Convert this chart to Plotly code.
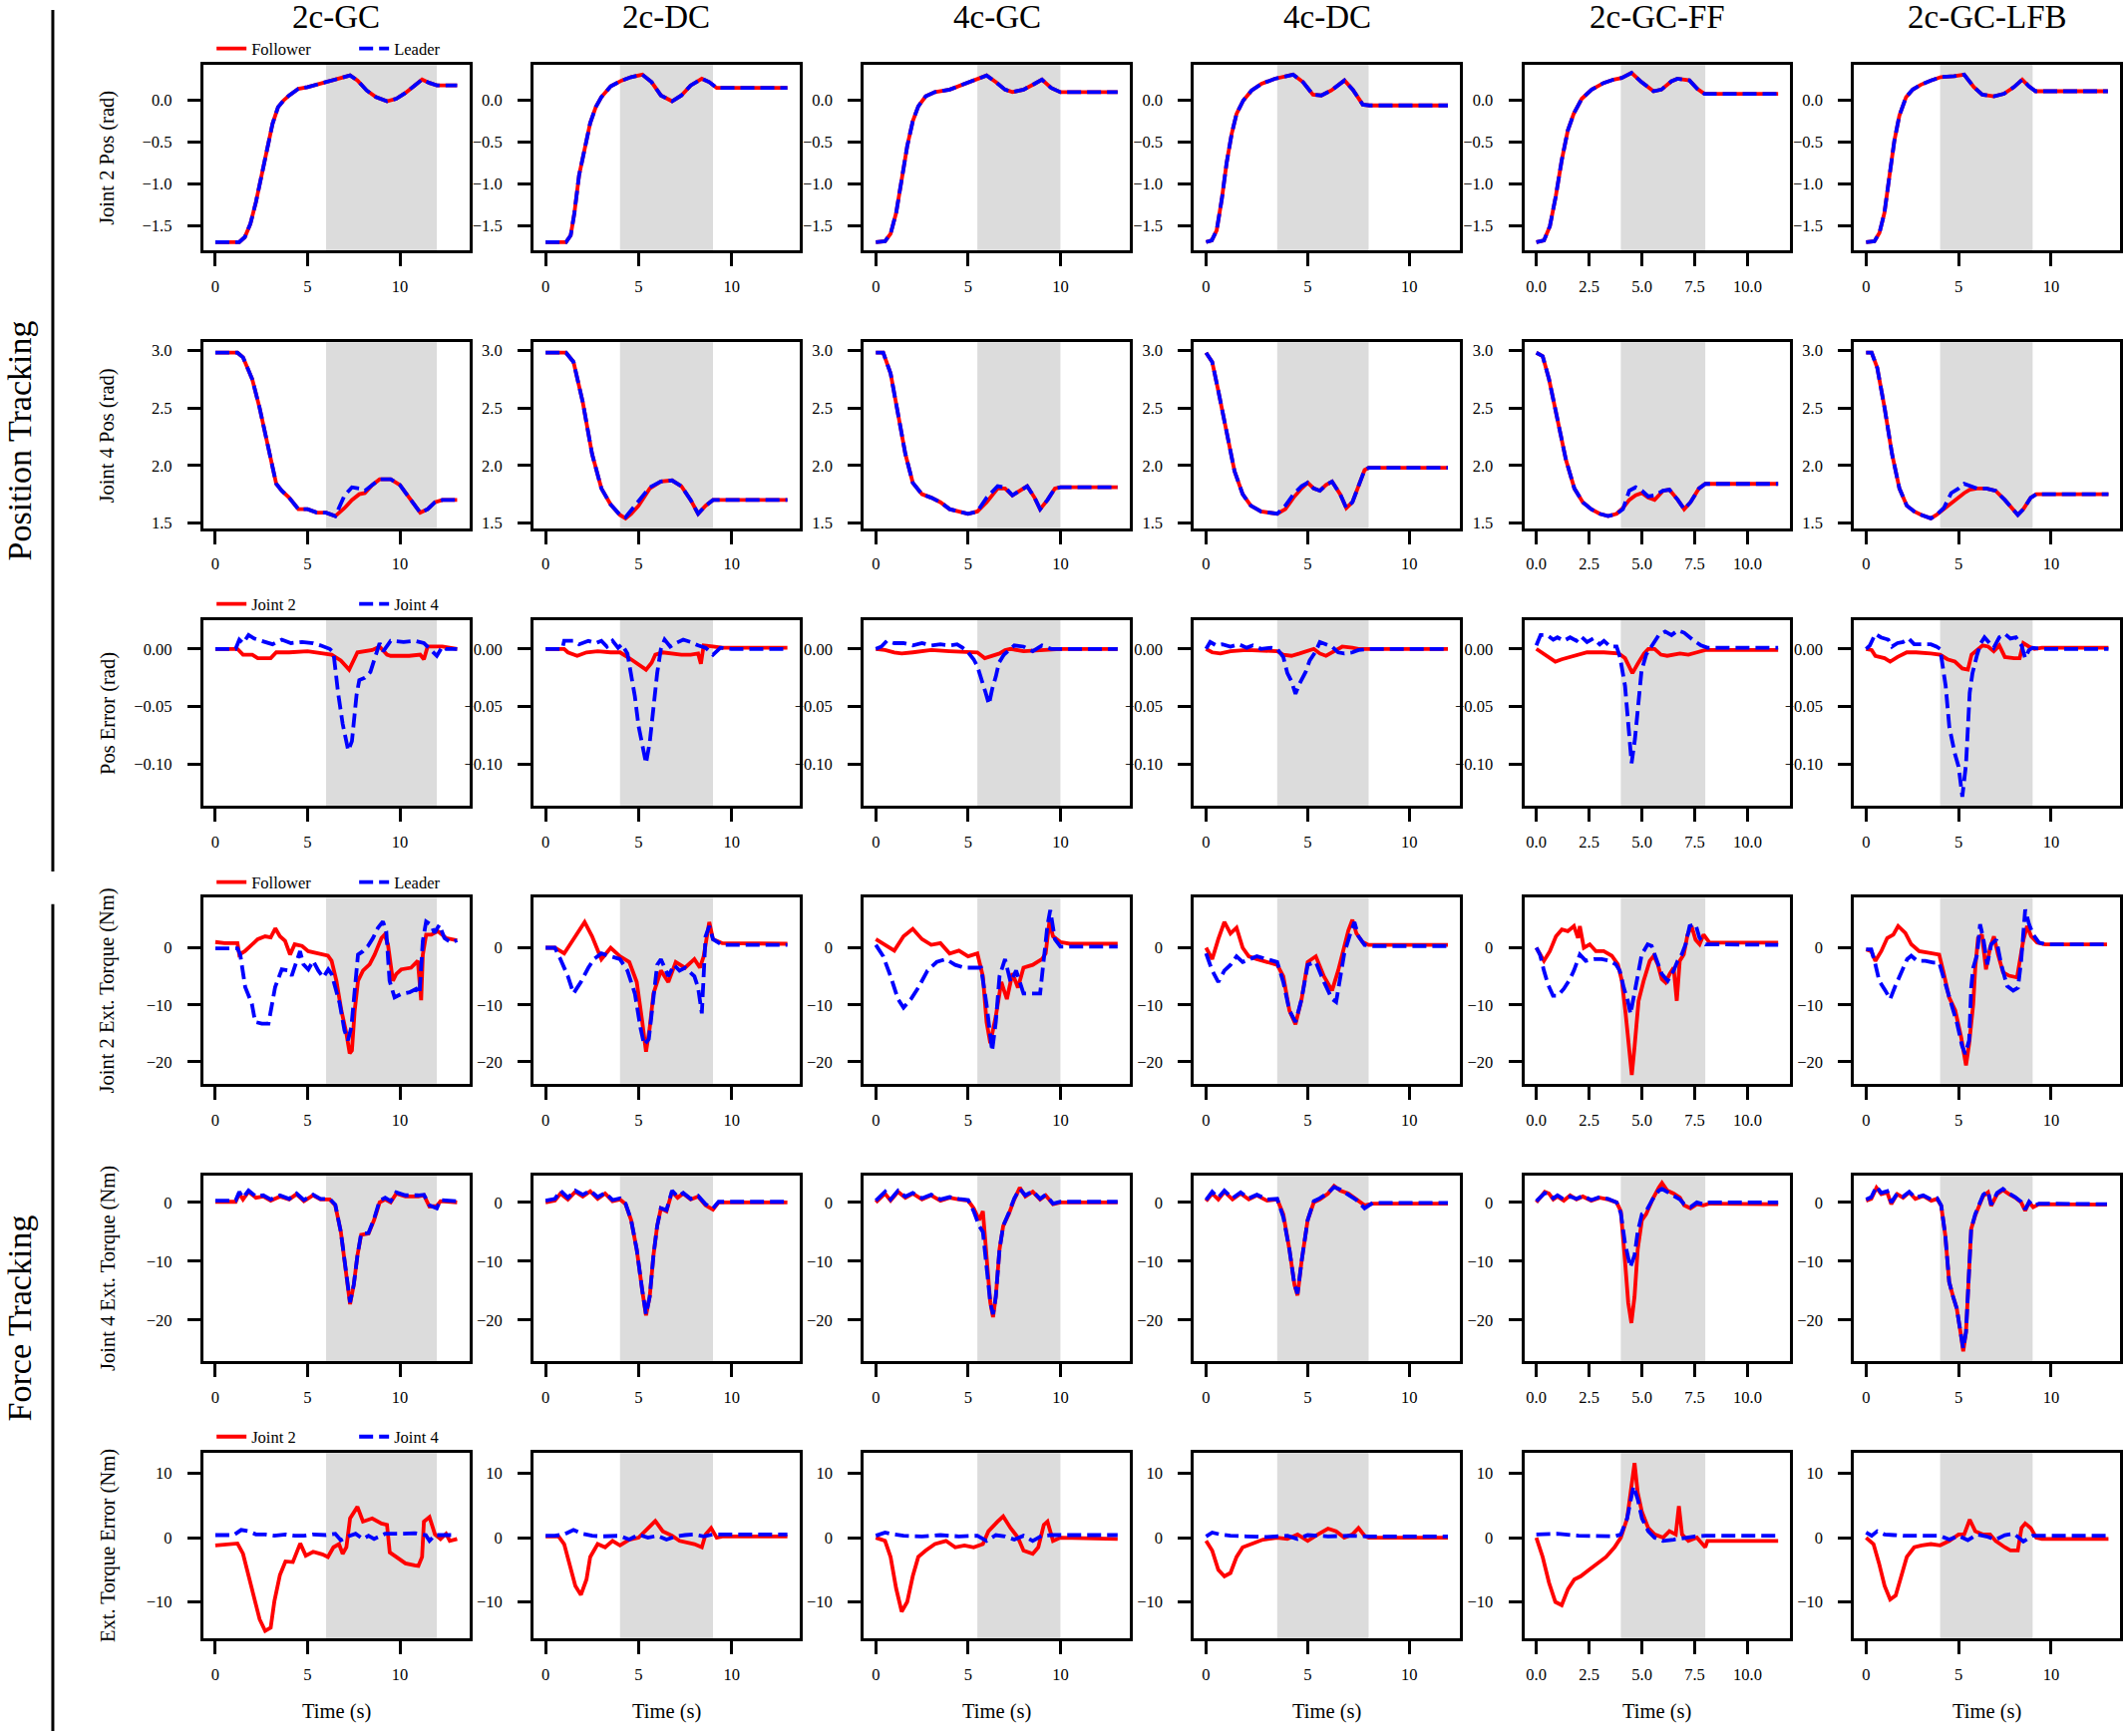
import plotly.graph_objects as go

W, H = 2129, 1741
FONT = "Liberation Serif, Times New Roman, serif"
RED = "#ff0000"
BLUE = "#0000ff"
SHADE = "#dcdcdc"

COLUMNS = ["2c-GC", "2c-DC", "4c-GC", "4c-DC", "2c-GC-FF", "2c-GC-LFB"]
ROW_LABELS = ["Joint 2 Pos (rad)", "Joint 4 Pos (rad)", "Pos Error (rad)",
              "Joint 2 Ext. Torque (Nm)", "Joint 4 Ext. Torque (Nm)", "Ext. Torque Error (Nm)"]
SHADE_START = [6.0, 4.0, 5.5, 3.5, 4.0, 4.0]
SHADE_END = [12.0, 9.0, 10.0, 8.0, 8.0, 9.0]
T_END = [13.1, 13.0, 13.1, 11.9, 11.45, 13.07]

# ---------------- Column 1 : 2c-GC ----------------
GC_J2POS_F = [(0,-1.70),(1.3,-1.70),(1.6,-1.64),(1.9,-1.48),(2.2,-1.22),(2.5,-0.92),(2.8,-0.58),(3.1,-0.28),(3.4,-0.08),(3.7,0.00),(4.0,0.06),(4.5,0.14),(5.0,0.16),(5.5,0.19),(6.0,0.23),(6.5,0.26),(7.0,0.28),(7.3,0.30),(7.7,0.24),(8.2,0.12),(8.7,0.04),(9.3,-0.01),(9.8,0.02),(10.3,0.09),(10.8,0.18),(11.2,0.25),(11.6,0.21),(12.0,0.18),(13.1,0.18)]
GC_J2POS_L = [(0,-1.70),(1.3,-1.70),(1.6,-1.64),(1.9,-1.48),(2.2,-1.22),(2.5,-0.92),(2.8,-0.58),(3.1,-0.28),(3.4,-0.08),(3.7,0.00),(4.0,0.06),(4.5,0.14),(5.0,0.16),(5.5,0.19),(6.0,0.23),(6.5,0.26),(7.0,0.28),(7.3,0.30),(7.7,0.24),(8.2,0.12),(8.7,0.04),(9.3,-0.01),(9.8,0.02),(10.3,0.09),(10.8,0.18),(11.2,0.25),(11.6,0.21),(12.0,0.18),(13.1,0.18)]
GC_J4POS_F = [(0,2.98),(1.2,2.98),(1.5,2.94),(2.0,2.75),(2.4,2.50),(2.7,2.27),(3.0,2.05),(3.3,1.84),(3.6,1.78),(4.0,1.72),(4.5,1.62),(5.0,1.62),(5.5,1.59),(6.0,1.59),(6.5,1.56),(7.0,1.63),(7.4,1.70),(7.8,1.75),(8.1,1.76),(8.5,1.83),(8.9,1.88),(9.5,1.88),(10.0,1.83),(10.5,1.72),(11.1,1.59),(11.5,1.62),(11.9,1.68),(12.3,1.70),(13.1,1.70)]
GC_J4POS_L = [(0,2.98),(1.2,2.98),(1.5,2.94),(2.0,2.75),(2.4,2.50),(2.7,2.27),(3.0,2.05),(3.3,1.84),(3.6,1.78),(4.0,1.72),(4.5,1.62),(5.0,1.62),(5.5,1.59),(6.0,1.59),(6.5,1.56),(7.0,1.74),(7.4,1.81),(7.8,1.80),(8.1,1.78),(8.5,1.83),(8.9,1.88),(9.5,1.88),(10.0,1.83),(10.5,1.72),(11.1,1.59),(11.5,1.62),(11.9,1.68),(12.3,1.70),(13.1,1.70)]
GC_POSERR_J2 = [(0,0),(1.2,0),(1.5,-0.005),(2.0,-0.005),(2.3,-0.008),(3.0,-0.008),(3.3,-0.003),(4.0,-0.003),(5.0,-0.002),(5.5,-0.003),(6.3,-0.005),(6.8,-0.010),(7.25,-0.018),(7.7,-0.003),(8.5,-0.001),(8.9,0.002),(9.3,-0.005),(9.5,-0.006),(10.5,-0.006),(11.1,-0.005),(11.3,-0.009),(11.5,0.002),(12.3,0.002),(13.1,0.0)]
GC_POSERR_J4 = [(0,0),(1.1,0),(1.3,0.008),(1.5,0.005),(1.8,0.012),(2.1,0.009),(2.3,0.008),(2.8,0.006),(3.1,0.004),(3.6,0.008),(4.1,0.005),(4.7,0.006),(5.3,0.005),(5.7,0.003),(6.2,0.0),(6.4,-0.003),(6.65,-0.038),(6.9,-0.065),(7.2,-0.088),(7.4,-0.080),(7.65,-0.040),(7.8,-0.027),(8.1,-0.025),(8.4,-0.020),(8.6,-0.010),(8.9,0.005),(9.1,-0.002),(9.5,0.007),(10.2,0.006),(10.8,0.007),(11.3,0.005),(11.8,-0.003),(12.0,-0.006),(12.3,0.002),(12.5,0.0),(13.1,0.0)]
GC_J2TQ_F = [(0,1.0),(0.5,0.8),(1.2,0.8),(1.3,-1.2),(1.6,-0.6),(2.0,0.6),(2.3,1.5),(2.7,2.0),(3.0,1.8),(3.25,3.4),(3.5,2.0),(3.78,1.2),(4.05,-1.2),(4.3,0.6),(4.7,0.3),(5.03,-0.6),(5.4,-0.9),(5.75,-1.2),(6.1,-1.4),(6.3,-2.3),(6.56,-5.8),(6.83,-11.0),(7.1,-15.0),(7.28,-18.5),(7.4,-18.0),(7.55,-11.0),(7.73,-5.8),(8.0,-4.0),(8.36,-2.9),(8.63,-1.2),(9.0,1.7),(9.17,2.3),(9.35,0.6),(9.62,-5.8),(9.8,-4.6),(10.07,-3.8),(10.6,-3.5),(10.97,-2.3),(11.15,-9.2),(11.24,-1.2),(11.42,2.3),(11.7,2.3),(12.05,2.9),(12.5,1.7),(13.1,1.3)]
GC_J2TQ_L = [(0,-0.1),(1.2,-0.1),(1.35,-1.2),(1.62,-6.9),(1.98,-9.8),(2.16,-13.0),(2.52,-13.3),(2.88,-13.3),(3.06,-10.1),(3.24,-6.9),(3.6,-3.8),(3.96,-4.0),(4.14,-4.9),(4.32,-3.2),(4.59,-0.6),(4.77,-2.9),(5.04,-3.8),(5.3,-2.3),(5.58,-4.0),(5.85,-5.2),(6.12,-3.8),(6.3,-4.6),(6.47,-6.4),(6.74,-9.8),(7.0,-14.5),(7.19,-16.2),(7.37,-13.9),(7.55,-6.9),(7.73,-1.2),(8.0,-0.6),(8.27,0.3),(8.54,1.7),(8.81,3.5),(9.08,4.6),(9.26,2.9),(9.44,-5.8),(9.71,-8.7),(10.07,-8.1),(10.52,-7.8),(10.88,-7.2),(11.06,-8.1),(11.24,1.2),(11.42,4.6),(11.69,4.0),(11.87,2.6),(12.14,4.0),(12.41,1.7),(12.77,0.9),(13.1,1.3)]
GC_J4TQ_F = [(0,0.1),(1.1,0.1),(1.3,1.5),(1.5,0.5),(1.8,1.8),(2.2,0.8),(2.6,1.0),(3.0,0.3),(3.5,1.0),(4.0,0.5),(4.4,1.4),(4.8,0.2),(5.3,1.2),(5.7,0.5),(6.2,0.5),(6.5,-0.5),(6.8,-5.0),(7.0,-10.0),(7.3,-17.3),(7.5,-14.0),(7.7,-9.0),(7.9,-5.5),(8.3,-5.3),(8.6,-3.0),(8.9,0.0),(9.2,0.5),(9.5,0.0),(9.8,1.5),(10.3,1.0),(11.0,1.0),(11.3,1.2),(11.6,-0.7),(12.0,-0.6),(12.2,0.2),(13.1,0.0)]
GC_J4TQ_L = [(0,0.3),(1.1,0.3),(1.3,1.8),(1.5,0.8),(1.8,2.0),(2.2,1.0),(2.6,1.2),(3.0,0.5),(3.5,1.2),(4.0,0.6),(4.4,1.5),(4.8,0.4),(5.3,1.3),(5.7,0.6),(6.2,0.6),(6.5,-0.4),(6.8,-5.0),(7.0,-10.0),(7.3,-17.0),(7.5,-14.0),(7.7,-9.0),(7.9,-5.3),(8.3,-5.2),(8.6,-2.8),(8.9,0.3),(9.2,0.8),(9.5,0.2),(9.8,1.7),(10.3,1.2),(11.0,1.2),(11.3,1.3),(11.6,-0.5),(12.0,-1.0),(12.2,0.4),(13.1,0.2)]
GC_TQERR_J2 = [(0,-1.2),(1.2,-0.9),(1.5,-2.5),(2.0,-8.0),(2.4,-12.7),(2.7,-14.5),(3.0,-14.0),(3.2,-9.9),(3.5,-5.8),(3.8,-3.7),(4.2,-3.8),(4.6,-0.9),(4.9,-2.8),(5.3,-2.2),(5.8,-2.6),(6.1,-3.0),(6.4,-1.5),(6.7,-1.0),(6.9,-2.5),(7.1,-1.5),(7.3,3.0),(7.7,4.8),(8.0,2.5),(8.5,3.0),(9.0,2.2),(9.3,2.0),(9.45,-2.3),(9.8,-3.0),(10.3,-4.0),(10.8,-4.3),(11.0,-4.4),(11.2,-3.0),(11.3,2.5),(11.6,3.2),(11.9,0.5),(12.2,-0.2),(12.5,0.6),(12.7,-0.5),(13.1,-0.2)]
GC_TQERR_J4 = [(0,0.4),(1.0,0.4),(1.4,1.2),(1.8,1.0),(2.2,0.5),(2.7,0.5),(3.2,0.3),(3.8,0.5),(4.3,0.3),(4.8,0.3),(5.3,0.5),(6.0,0.4),(6.5,0.6),(6.8,-0.4),(7.2,0.2),(7.6,0.6),(8.0,-0.2),(8.3,0.3),(8.6,-0.2),(9.2,0.6),(10.0,0.6),(10.8,0.7),(11.4,0.4),(11.6,-0.5),(11.9,0.4),(12.5,0.4),(13.1,0.4)]

# ---------------- Column 2 : 2c-DC ----------------
DC_J2POS_F = [(0,-1.70),(1.1,-1.70),(1.35,-1.62),(1.55,-1.35),(1.8,-0.90),(2.1,-0.56),(2.4,-0.27),(2.7,-0.08),(3.0,0.04),(3.5,0.17),(4.1,0.24),(4.6,0.28),(5.2,0.31),(5.7,0.22),(6.2,0.06),(6.8,-0.01),(7.3,0.06),(7.8,0.18),(8.4,0.26),(8.8,0.22),(9.2,0.15),(13.0,0.15)]
DC_J2POS_L = [(0,-1.70),(1.1,-1.70),(1.35,-1.62),(1.55,-1.35),(1.8,-0.90),(2.1,-0.56),(2.4,-0.27),(2.7,-0.08),(3.0,0.04),(3.5,0.17),(4.1,0.24),(4.6,0.28),(5.2,0.31),(5.7,0.22),(6.2,0.06),(6.8,-0.01),(7.3,0.06),(7.8,0.18),(8.4,0.26),(8.8,0.22),(9.2,0.15),(13.0,0.15)]
DC_J4POS_F = [(0,2.98),(1.1,2.98),(1.5,2.90),(2.0,2.55),(2.5,2.10),(3.0,1.80),(3.5,1.66),(4.0,1.57),(4.3,1.54),(4.6,1.58),(5.0,1.65),(5.6,1.80),(6.2,1.86),(6.8,1.87),(7.3,1.82),(7.8,1.70),(8.2,1.58),(8.6,1.65),(9.0,1.70),(13.0,1.70)]
DC_J4POS_L = [(0,2.98),(1.1,2.98),(1.5,2.90),(2.0,2.55),(2.5,2.10),(3.0,1.80),(3.5,1.66),(4.0,1.57),(4.3,1.55),(4.6,1.61),(5.0,1.69),(5.6,1.81),(6.2,1.86),(6.8,1.87),(7.3,1.82),(7.8,1.70),(8.2,1.58),(8.6,1.65),(9.0,1.70),(13.0,1.70)]
DC_POSERR_J2 = [(0,0),(1.0,0),(1.2,-0.003),(1.7,-0.006),(2.2,-0.003),(2.8,-0.002),(3.5,-0.003),(4.0,-0.003),(4.5,-0.008),(5.0,-0.014),(5.4,-0.018),(5.7,-0.012),(5.9,-0.005),(6.3,-0.003),(6.8,-0.004),(7.3,-0.005),(7.8,-0.005),(8.2,-0.004),(8.35,-0.013),(8.5,0.003),(9.0,0.002),(9.5,0.001),(13.0,0.001)]
DC_POSERR_J4 = [(0,0),(0.9,0),(1.0,0.007),(1.5,0.007),(1.8,0.004),(2.3,0.007),(2.7,0.005),(3.0,0.007),(3.3,0.002),(3.6,0.007),(3.9,0.001),(4.1,0.004),(4.4,-0.004),(4.6,-0.024),(4.8,-0.041),(5.0,-0.067),(5.3,-0.089),(5.4,-0.099),(5.6,-0.081),(5.8,-0.049),(6.0,-0.021),(6.2,0.0),(6.4,0.008),(6.7,0.002),(7.0,0.005),(7.4,0.008),(7.8,0.006),(8.2,0.003),(8.6,0.001),(9.0,-0.005),(9.4,0.001),(10.0,0.0),(13.0,0.0)]
DC_J2TQ_F = [(0,0),(0.5,0),(1.0,-1.0),(1.5,1.5),(2.1,4.5),(2.5,2.0),(3.0,-2.0),(3.5,0),(4.0,-1.5),(4.5,-2.5),(4.9,-6),(5.2,-13),(5.4,-18.2),(5.6,-14),(5.8,-8),(6.2,-4),(6.6,-6),(7.0,-2.5),(7.5,-3.5),(8.0,-2),(8.3,-3.5),(8.5,-1.5),(8.8,4.5),(9.0,1.5),(9.5,0.8),(13.0,0.7)]
DC_J2TQ_L = [(0,0),(0.5,0),(0.8,-2),(1.2,-5),(1.5,-8),(1.9,-6),(2.3,-3.5),(2.6,-2),(3.0,-1.0),(3.5,-1.5),(4.0,-2),(4.4,-4),(4.8,-8),(5.1,-14),(5.3,-17),(5.55,-16),(5.8,-8),(6.0,-3),(6.2,-2),(6.6,-5),(6.9,-3),(7.2,-4),(7.5,-3.5),(8.0,-5),(8.2,-7),(8.4,-11.5),(8.6,2),(8.8,3.8),(9.0,1.5),(9.5,0.5),(13.0,0.5)]
DC_J4TQ_F = [(0,0),(0.5,0.3),(0.8,1.5),(1.2,0.5),(1.6,1.8),(2.0,1.0),(2.4,1.9),(2.8,0.6),(3.2,1.5),(3.6,0.2),(4.0,0.5),(4.3,-0.3),(4.6,-3),(4.9,-8),(5.2,-15),(5.4,-19.2),(5.6,-16),(5.8,-9),(6.0,-4),(6.2,-1),(6.5,-1.5),(6.8,1.8),(7.1,0.8),(7.4,1.5),(7.8,0.5),(8.2,1.0),(8.6,-0.5),(9.0,-1.2),(9.3,0),(13.0,0)]
DC_J4TQ_L = [(0,0.3),(0.5,0.6),(0.8,2.0),(1.2,0.8),(1.6,2.0),(2.0,1.3),(2.4,2.0),(2.8,0.9),(3.2,1.6),(3.6,0.4),(4.0,0.7),(4.3,-0.2),(4.6,-3),(4.9,-8),(5.2,-15),(5.4,-19.0),(5.6,-16),(5.8,-9),(6.0,-4),(6.2,-1),(6.5,-1.3),(6.8,2.0),(7.1,1.0),(7.4,1.6),(7.8,0.6),(8.2,1.1),(8.6,-0.3),(9.0,-1.0),(9.3,0.1),(13.0,0.1)]
DC_TQERR_J2 = [(0,0.2),(0.7,0.2),(1.0,-1),(1.3,-4),(1.6,-7.5),(1.9,-8.9),(2.2,-6.5),(2.4,-3),(2.8,-1.0),(3.2,-1.5),(3.6,-0.5),(4.0,-1.2),(4.5,-0.3),(5.0,0),(5.5,1.5),(5.9,2.6),(6.3,1.0),(6.8,0.3),(7.2,-0.5),(7.6,-0.8),(8.0,-1.0),(8.4,-1.5),(8.6,0.5),(8.9,1.5),(9.2,0),(9.5,0.2),(13.0,0.2)]
DC_TQERR_J4 = [(0,0.3),(0.5,0.3),(1.0,0.5),(1.5,1.2),(2.0,0.6),(2.5,0.3),(3.0,0.2),(4.0,0.3),(4.5,-0.3),(5.0,0.5),(5.5,0.0),(6.0,0.3),(6.5,-0.3),(7.0,0.2),(7.5,0.4),(8.0,0.5),(8.5,0.2),(9.0,0.5),(13.0,0.5)]

# ---------------- Column 3 : 4c-GC ----------------
GC4_J2POS_F = [(0,-1.70),(0.5,-1.69),(0.8,-1.60),(1.1,-1.35),(1.4,-0.95),(1.7,-0.55),(2.0,-0.25),(2.3,-0.07),(2.7,0.05),(3.2,0.10),(4.0,0.13),(4.8,0.20),(5.5,0.25),(6.0,0.30),(6.5,0.22),(7.0,0.13),(7.4,0.10),(8.0,0.13),(8.6,0.20),(9.0,0.25),(9.5,0.15),(10.0,0.10),(13.1,0.10)]
GC4_J2POS_L = [(0,-1.70),(0.5,-1.69),(0.8,-1.60),(1.1,-1.35),(1.4,-0.95),(1.7,-0.55),(2.0,-0.25),(2.3,-0.07),(2.7,0.05),(3.2,0.10),(4.0,0.13),(4.8,0.20),(5.5,0.25),(6.0,0.30),(6.5,0.22),(7.0,0.13),(7.4,0.10),(8.0,0.13),(8.6,0.20),(9.0,0.25),(9.5,0.15),(10.0,0.10),(13.1,0.10)]
GC4_J4POS_F = [(0,2.98),(0.4,2.98),(0.8,2.80),(1.2,2.45),(1.6,2.10),(2.0,1.85),(2.5,1.75),(3.0,1.72),(3.5,1.68),(4.0,1.62),(4.5,1.60),(5.0,1.58),(5.5,1.60),(6.0,1.68),(6.6,1.80),(7.0,1.80),(7.4,1.74),(7.8,1.78),(8.2,1.82),(8.6,1.72),(8.9,1.62),(9.3,1.70),(9.7,1.80),(10.0,1.81),(13.1,1.81)]
GC4_J4POS_L = [(0,2.98),(0.4,2.98),(0.8,2.80),(1.2,2.45),(1.6,2.10),(2.0,1.85),(2.5,1.75),(3.0,1.72),(3.5,1.68),(4.0,1.62),(4.5,1.60),(5.0,1.58),(5.5,1.60),(6.0,1.72),(6.6,1.82),(7.0,1.81),(7.4,1.74),(7.8,1.78),(8.2,1.82),(8.6,1.72),(8.9,1.62),(9.3,1.70),(9.7,1.80),(10.0,1.81),(13.1,1.81)]
GC4_POSERR_J2 = [(0,0),(0.5,-0.001),(1.0,-0.003),(1.4,-0.004),(2.0,-0.003),(3.0,-0.001),(4.0,-0.002),(5.0,-0.003),(5.5,-0.003),(5.9,-0.008),(6.3,-0.006),(6.7,-0.004),(7.0,-0.001),(7.3,0.0),(8.0,-0.002),(9.0,-0.001),(10.0,0.0),(13.1,0.0)]
GC4_POSERR_J4 = [(0,0),(0.3,0.002),(0.6,0.007),(1.0,0.005),(1.5,0.005),(2.0,0.003),(2.5,0.005),(3.0,0.003),(3.5,0.004),(4.0,0.003),(4.4,0.004),(4.7,0.001),(5.0,-0.003),(5.3,-0.009),(5.5,-0.015),(5.77,-0.028),(5.95,-0.038),(6.13,-0.048),(6.3,-0.035),(6.5,-0.024),(6.67,-0.012),(6.94,-0.005),(7.2,-0.001),(7.5,0.003),(8.0,0.002),(8.5,-0.002),(9.0,0.003),(9.5,0.0),(10.0,0.0),(13.1,0.0)]
GC4_J2TQ_F = [(0,1.5),(0.5,0.5),(1.0,-0.5),(1.5,2.0),(2.0,3.3),(2.5,1.5),(3.0,0.5),(3.5,0.8),(4.0,-1.0),(4.5,-0.5),(5.0,-1.5),(5.5,-1.0),(5.8,-5),(6.0,-13),(6.2,-16.7),(6.5,-12),(6.8,-6),(7.1,-9),(7.4,-4.5),(7.7,-7),(8.0,-3.5),(8.5,-3),(9.0,-2),(9.2,-1),(9.4,4.5),(9.6,2),(10.0,1.0),(10.5,0.7),(13.1,0.7)]
GC4_J2TQ_L = [(0,0.5),(0.4,-1.5),(0.8,-5),(1.2,-9),(1.5,-10.5),(1.9,-9),(2.3,-7),(2.8,-4),(3.3,-2.5),(3.8,-2),(4.3,-3),(4.8,-3.5),(5.3,-3.5),(5.7,-3.5),(6.0,-10),(6.3,-18.1),(6.5,-13),(6.7,-5),(7.0,-2),(7.3,-6),(7.6,-4),(8.0,-8),(8.5,-8),(8.9,-8),(9.1,-2),(9.3,4),(9.45,6.6),(9.7,1.5),(10.0,0.2),(13.1,0.2)]
GC4_J4TQ_F = [(0,0),(0.5,1.5),(0.8,0.3),(1.2,1.8),(1.6,0.8),(2.0,1.5),(2.5,0.5),(3.0,1.2),(3.5,0.3),(4.0,0.8),(4.5,0.5),(5.0,0.3),(5.3,-1),(5.6,-3),(5.8,-1.5),(6.0,-10),(6.2,-17),(6.35,-19.5),(6.5,-16),(6.7,-8),(6.9,-4),(7.2,-2),(7.5,0.5),(7.8,2.5),(8.1,1.0),(8.5,1.8),(8.9,0.5),(9.2,1.2),(9.6,-0.3),(10.0,0),(13.1,0)]
GC4_J4TQ_L = [(0,0.3),(0.5,1.8),(0.8,0.5),(1.2,2.0),(1.6,1.0),(2.0,1.6),(2.5,0.7),(3.0,1.3),(3.5,0.5),(4.0,0.9),(4.5,0.6),(5.0,0.4),(5.3,-1.5),(5.6,-4),(5.8,-5),(6.0,-11),(6.2,-17),(6.35,-19.0),(6.5,-16),(6.7,-8),(6.9,-4),(7.2,-1.8),(7.5,0.7),(7.8,2.3),(8.1,1.2),(8.5,1.9),(8.9,0.6),(9.2,1.3),(9.6,-0.2),(10.0,0.1),(13.1,0.1)]
GC4_TQERR_J2 = [(0,0),(0.5,-0.5),(0.8,-3),(1.1,-7.9),(1.4,-11.5),(1.7,-10),(2.0,-6),(2.3,-3),(2.7,-2),(3.2,-1.0),(3.8,-0.5),(4.3,-1.5),(4.8,-1.2),(5.3,-1.5),(5.8,-1),(6.1,1.0),(6.6,2.5),(6.9,3.3),(7.3,1.5),(7.7,0),(8.0,-2),(8.5,-2.5),(8.8,-1.5),(9.1,2.0),(9.3,2.5),(9.6,-0.5),(10.0,0),(13.1,-0.2)]
GC4_TQERR_J4 = [(0,0.3),(0.5,0.8),(1.0,0.5),(1.5,0.3),(2.5,0.2),(3.5,0.4),(4.5,0.2),(5.5,0.3),(6.0,-0.5),(6.5,0.4),(7.0,0.2),(7.5,-0.3),(8.0,0.3),(8.5,-0.5),(9.0,0.3),(9.5,0.4),(13.1,0.4)]

# ---------------- Column 4 : 4c-DC ----------------
DC4_J2POS_F = [(0,-1.70),(0.28,-1.68),(0.52,-1.56),(0.77,-1.19),(1.01,-0.75),(1.26,-0.40),(1.5,-0.16),(1.83,0.0),(2.24,0.12),(2.73,0.20),(3.38,0.26),(4.28,0.31),(4.77,0.22),(5.26,0.07),(5.67,0.06),(6.16,0.12),(6.81,0.24),(7.22,0.13),(7.71,-0.05),(8.04,-0.06),(11.9,-0.06)]
DC4_J2POS_L = [(0,-1.70),(0.28,-1.68),(0.52,-1.56),(0.77,-1.19),(1.01,-0.75),(1.26,-0.40),(1.5,-0.16),(1.83,0.0),(2.24,0.12),(2.73,0.20),(3.38,0.26),(4.28,0.31),(4.77,0.22),(5.26,0.07),(5.67,0.06),(6.16,0.12),(6.81,0.24),(7.22,0.13),(7.71,-0.05),(8.04,-0.06),(11.9,-0.06)]
DC4_J4POS_F = [(0,2.98),(0.3,2.90),(0.6,2.65),(1.0,2.30),(1.4,1.95),(1.8,1.75),(2.2,1.65),(2.7,1.60),(3.2,1.59),(3.5,1.58),(3.9,1.62),(4.3,1.72),(4.7,1.80),(5.0,1.85),(5.3,1.80),(5.6,1.78),(5.9,1.83),(6.2,1.86),(6.6,1.75),(6.9,1.63),(7.2,1.68),(7.5,1.82),(7.8,1.96),(8.0,1.98),(11.9,1.98)]
DC4_J4POS_L = [(0,2.98),(0.3,2.90),(0.6,2.65),(1.0,2.30),(1.4,1.95),(1.8,1.75),(2.2,1.65),(2.7,1.60),(3.2,1.59),(3.5,1.58),(3.9,1.65),(4.3,1.75),(4.7,1.82),(5.0,1.85),(5.3,1.80),(5.6,1.78),(5.9,1.83),(6.2,1.86),(6.6,1.75),(6.9,1.63),(7.2,1.68),(7.5,1.82),(7.8,1.96),(8.0,1.98),(11.9,1.98)]
DC4_POSERR_J2 = [(0,0),(0.3,-0.003),(0.7,-0.004),(1.2,-0.002),(2.0,-0.001),(3.0,-0.002),(3.5,-0.002),(3.8,-0.005),(4.2,-0.006),(4.6,-0.004),(5.0,-0.002),(5.3,0.0),(5.6,-0.004),(5.9,-0.006),(6.3,-0.002),(6.7,0.002),(7.2,0.001),(7.5,0.0),(11.9,0.0)]
DC4_POSERR_J4 = [(0,0),(0.2,0.006),(0.5,0.003),(0.8,0.004),(1.2,0.002),(1.6,0.004),(2.0,0.001),(2.3,0.003),(2.7,0.0),(3.2,0.001),(3.5,0.0),(3.8,-0.007),(4.0,-0.021),(4.2,-0.028),(4.4,-0.039),(4.6,-0.030),(4.9,-0.020),(5.1,-0.010),(5.4,-0.002),(5.6,0.006),(5.9,0.004),(6.2,0.002),(6.5,-0.003),(6.8,-0.004),(7.2,-0.003),(7.5,-0.001),(8.0,0.0),(11.9,0.0)]
DC4_J2TQ_F = [(0,0),(0.3,-2),(0.6,1.5),(0.9,4.5),(1.2,2.5),(1.5,3.5),(1.8,0),(2.1,-1.5),(2.5,-2),(3.0,-2.5),(3.5,-3),(3.8,-5),(4.1,-11),(4.4,-13.4),(4.7,-9),(5.0,-2.5),(5.4,-1.5),(5.8,-5),(6.2,-7.5),(6.5,-4),(6.8,0),(7.0,3.0),(7.2,4.9),(7.4,2.5),(7.7,1.0),(8.0,0.5),(11.9,0.5)]
DC4_J2TQ_L = [(0,-1),(0.3,-4),(0.6,-6),(0.9,-4),(1.2,-3),(1.5,-1.5),(1.8,-2.5),(2.1,-2),(2.5,-1.5),(3.0,-2),(3.5,-2.5),(3.8,-6),(4.1,-11),(4.4,-13),(4.7,-9),(5.0,-3),(5.4,-2.5),(5.8,-6),(6.2,-9),(6.4,-9.5),(6.6,-5),(6.8,-1),(7.1,2.5),(7.3,4.5),(7.5,2),(7.8,0.5),(8.2,0.3),(11.9,0.3)]
DC4_J4TQ_F = [(0,0.2),(0.3,1.5),(0.6,0.5),(0.9,1.8),(1.3,0.5),(1.7,1.5),(2.1,0.5),(2.5,1.2),(3.0,0.3),(3.5,0.5),(3.8,-2),(4.1,-8),(4.35,-14),(4.5,-15.8),(4.7,-10),(5.0,-3),(5.3,0),(5.6,0.5),(6.0,1.5),(6.3,2.8),(6.6,2.0),(7.0,1.5),(7.4,0.5),(7.8,-0.5),(8.2,-0.2),(11.9,-0.2)]
DC4_J4TQ_L = [(0,0.4),(0.3,1.8),(0.6,0.8),(0.9,2.0),(1.3,0.7),(1.7,1.7),(2.1,0.7),(2.5,1.3),(3.0,0.5),(3.5,0.6),(3.8,-2.5),(4.1,-8),(4.35,-14),(4.5,-15.5),(4.7,-10),(5.0,-3),(5.3,0.2),(5.6,0.7),(6.0,1.6),(6.3,2.6),(6.6,2.2),(7.0,1.3),(7.4,0.4),(7.8,-1.0),(8.2,-0.1),(11.9,-0.1)]
DC4_TQERR_J2 = [(0,-0.5),(0.3,-2),(0.6,-5),(0.9,-6),(1.2,-5.5),(1.5,-3),(1.8,-1.5),(2.2,-1.0),(2.8,-0.3),(3.5,0),(4.0,-0.2),(4.5,0.5),(5.0,-0.5),(5.5,0.5),(6.0,1.4),(6.4,1.0),(6.8,0),(7.2,0.5),(7.5,1.5),(7.8,0.3),(8.0,0),(11.9,0)]
DC4_TQERR_J4 = [(0,0.2),(0.3,0.8),(0.7,0.5),(1.2,0.3),(2.0,0.2),(3.0,0.1),(4.0,0.3),(4.5,-0.2),(5.0,0.4),(6.0,0.2),(7.0,0.3),(8.0,0.2),(11.9,0.2)]

# ---------------- Column 5 : 2c-GC-FF ----------------
FF_J2POS_F = [(0,-1.70),(0.36,-1.68),(0.64,-1.51),(0.92,-1.15),(1.2,-0.72),(1.49,-0.36),(1.77,-0.16),(2.15,0.02),(2.62,0.13),(3.19,0.21),(3.66,0.25),(4.04,0.27),(4.51,0.33),(4.98,0.22),(5.55,0.11),(5.92,0.13),(6.4,0.23),(6.68,0.26),(7.25,0.24),(7.62,0.14),(7.96,0.08),(11.45,0.08)]
FF_J2POS_L = [(0,-1.70),(0.36,-1.68),(0.64,-1.51),(0.92,-1.15),(1.2,-0.72),(1.49,-0.36),(1.77,-0.16),(2.15,0.02),(2.62,0.13),(3.19,0.21),(3.66,0.25),(4.04,0.27),(4.51,0.33),(4.98,0.22),(5.55,0.11),(5.92,0.13),(6.4,0.23),(6.68,0.26),(7.25,0.24),(7.62,0.14),(7.96,0.08),(11.45,0.08)]
FF_J4POS_F = [(0,2.98),(0.3,2.95),(0.6,2.75),(1.0,2.40),(1.4,2.05),(1.8,1.80),(2.2,1.68),(2.6,1.62),(3.0,1.58),(3.4,1.56),(3.8,1.58),(4.1,1.63),(4.4,1.70),(4.7,1.74),(5.0,1.76),(5.3,1.72),(5.6,1.70),(6.0,1.78),(6.3,1.79),(6.7,1.70),(7.0,1.62),(7.3,1.68),(7.7,1.80),(8.0,1.84),(11.45,1.84)]
FF_J4POS_L = [(0,2.98),(0.3,2.95),(0.6,2.75),(1.0,2.40),(1.4,2.05),(1.8,1.80),(2.2,1.68),(2.6,1.62),(3.0,1.58),(3.4,1.56),(3.8,1.58),(4.1,1.62),(4.4,1.78),(4.7,1.81),(5.0,1.78),(5.3,1.73),(5.6,1.74),(6.0,1.78),(6.3,1.79),(6.7,1.70),(7.0,1.62),(7.3,1.68),(7.7,1.80),(8.0,1.84),(11.45,1.84)]
FF_POSERR_J2 = [(0,0),(0.3,-0.004),(0.6,-0.008),(0.9,-0.011),(1.2,-0.009),(1.6,-0.007),(2.0,-0.005),(2.4,-0.003),(3.2,-0.003),(3.9,-0.004),(4.2,-0.008),(4.4,-0.015),(4.55,-0.021),(4.8,-0.013),(5.1,-0.004),(5.3,0.0),(5.6,0.0),(5.9,-0.005),(6.2,-0.006),(6.8,-0.004),(7.2,-0.005),(7.6,-0.003),(8.0,-0.001),(11.45,-0.001)]
FF_POSERR_J4 = [(0,0.003),(0.2,0.012),(0.5,0.012),(0.8,0.008),(1.0,0.010),(1.3,0.007),(1.6,0.010),(1.9,0.007),(2.1,0.011),(2.4,0.006),(2.7,0.009),(3.0,0.004),(3.2,0.007),(3.5,0.002),(3.8,0.002),(3.96,-0.007),(4.2,-0.032),(4.35,-0.067),(4.51,-0.099),(4.67,-0.078),(4.83,-0.047),(4.98,-0.019),(5.2,-0.005),(5.5,0.004),(5.8,0.012),(6.1,0.015),(6.4,0.012),(6.7,0.016),(7.0,0.014),(7.4,0.008),(7.8,0.003),(8.1,0.001),(11.45,0.001)]
FF_J2TQ_F = [(0,0),(0.36,-2.3),(0.64,-0.6),(0.93,2.0),(1.21,3.2),(1.49,2.9),(1.78,3.8),(1.97,1.7),(2.06,3.8),(2.25,0),(2.53,0.6),(2.82,-0.6),(3.19,-0.6),(3.57,-1.4),(3.86,-2.9),(4.05,-5.8),(4.23,-11.6),(4.42,-18.6),(4.52,-22.3),(4.65,-17.4),(4.84,-9.3),(5.08,-5.8),(5.37,-2.3),(5.56,-1.4),(5.75,-2.9),(5.94,-5.5),(6.12,-6.1),(6.31,-4.6),(6.5,-3.5),(6.65,-9.3),(6.79,-2.3),(6.98,-1.2),(7.16,2.3),(7.35,3.8),(7.54,1.4),(7.73,0.6),(7.92,2.3),(8.2,0.9),(11.45,0.9)]
FF_J2TQ_L = [(0,0),(0.17,-1.2),(0.36,-4),(0.55,-6.4),(0.79,-8.4),(1.02,-8.4),(1.3,-7.2),(1.59,-5.5),(1.78,-4),(2.06,-1.2),(2.34,-2.3),(2.72,-2.0),(3.1,-2.0),(3.48,-2.3),(3.76,-2.9),(3.95,-4),(4.14,-7.0),(4.33,-9.3),(4.46,-11.6),(4.61,-8.7),(4.8,-4.6),(4.99,-1.2),(5.27,0.6),(5.46,0.3),(5.65,-1.7),(5.94,-4.6),(6.22,-5.8),(6.5,-4),(6.69,-2.3),(6.88,-1.2),(7.07,0.6),(7.26,3.8),(7.54,4.1),(7.73,1.7),(8.01,0.6),(11.45,0.5)]
FF_J4TQ_F = [(0,0),(0.2,0.8),(0.4,1.8),(0.6,1.5),(0.8,0.5),(1.0,1.0),(1.3,0.3),(1.6,1.2),(1.9,0.5),(2.2,1.0),(2.6,0.3),(3.0,0.8),(3.4,0.5),(3.8,0),(4.0,-1.5),(4.2,-10),(4.35,-17),(4.5,-20.5),(4.65,-16),(4.8,-8),(5.0,-3),(5.2,-2),(5.5,0.5),(5.8,2.5),(5.95,3.3),(6.2,2.0),(6.5,1.5),(6.8,0.8),(7.0,-0.5),(7.3,-1),(7.6,-0.3),(7.9,-0.5),(8.2,-0.2),(11.45,-0.3)]
FF_J4TQ_L = [(0,0.2),(0.2,1.0),(0.4,1.6),(0.6,1.4),(0.8,0.7),(1.0,1.2),(1.3,0.5),(1.6,1.0),(1.9,0.6),(2.2,1.1),(2.6,0.4),(3.0,0.9),(3.4,0.6),(3.8,0),(4.0,-1.8),(4.2,-7),(4.45,-11),(4.65,-9),(4.8,-5),(5.0,-2),(5.2,-1.5),(5.5,0.5),(5.8,2.0),(5.95,2.3),(6.2,1.8),(6.5,1.2),(6.8,0.5),(7.0,-0.3),(7.3,-0.8),(7.6,0),(7.9,-0.3),(8.2,0),(11.45,0)]
FF_TQERR_J2 = [(0,0),(0.3,-3),(0.6,-7),(0.9,-10),(1.2,-10.5),(1.5,-8),(1.8,-6.5),(2.1,-6),(2.5,-5),(2.9,-4),(3.3,-3),(3.7,-1.5),(4.0,0),(4.3,3),(4.5,8),(4.65,11.6),(4.8,7),(5.0,4),(5.3,1.5),(5.6,0.5),(6.0,0),(6.3,1.0),(6.6,0.5),(6.75,4.9),(6.9,0.5),(7.2,-0.5),(7.6,0),(8.0,-1.5),(8.1,-0.5),(11.45,-0.5)]
FF_TQERR_J4 = [(0,0.5),(1.0,0.6),(2.0,0.3),(3.0,0.3),(3.7,0.2),(4.0,0.5),(4.3,3),(4.6,8),(4.8,6),(5.0,3),(5.3,1),(5.6,0),(6.0,-0.5),(6.5,-0.3),(7.0,0),(7.5,0.2),(8.0,0.3),(11.45,0.3)]

# ---------------- Column 6 : 2c-GC-LFB ----------------
LFB_J2POS_F = [(0,-1.70),(0.45,-1.69),(0.72,-1.59),(0.99,-1.35),(1.26,-0.91),(1.53,-0.48),(1.8,-0.18),(2.16,0.04),(2.52,0.13),(2.97,0.19),(3.5,0.24),(4.04,0.28),(4.76,0.29),(5.3,0.31),(5.83,0.16),(6.28,0.07),(6.91,0.05),(7.45,0.08),(7.99,0.16),(8.44,0.25),(8.8,0.17),(9.16,0.11),(13.07,0.11)]
LFB_J2POS_L = [(0,-1.70),(0.45,-1.69),(0.72,-1.59),(0.99,-1.35),(1.26,-0.91),(1.53,-0.48),(1.8,-0.18),(2.16,0.04),(2.52,0.13),(2.97,0.19),(3.5,0.24),(4.04,0.28),(4.76,0.29),(5.3,0.31),(5.83,0.16),(6.28,0.07),(6.91,0.05),(7.45,0.08),(7.99,0.16),(8.44,0.25),(8.8,0.17),(9.16,0.11),(13.07,0.11)]
LFB_J4POS_F = [(0,2.98),(0.3,2.98),(0.6,2.85),(1.0,2.50),(1.4,2.10),(1.8,1.80),(2.2,1.65),(2.6,1.60),(3.0,1.57),(3.5,1.54),(3.8,1.57),(4.2,1.62),(4.6,1.68),(5.0,1.72),(5.3,1.76),(5.6,1.79),(6.0,1.80),(6.5,1.80),(7.0,1.78),(7.5,1.70),(7.9,1.62),(8.2,1.57),(8.5,1.62),(8.9,1.72),(9.2,1.75),(13.1,1.75)]
LFB_J4POS_L = [(0,2.98),(0.3,2.98),(0.6,2.85),(1.0,2.50),(1.4,2.10),(1.8,1.80),(2.2,1.65),(2.6,1.60),(3.0,1.57),(3.5,1.54),(3.8,1.57),(4.2,1.63),(4.6,1.76),(5.0,1.80),(5.3,1.84),(5.6,1.82),(6.0,1.80),(6.5,1.80),(7.0,1.78),(7.5,1.70),(7.9,1.62),(8.2,1.57),(8.5,1.62),(8.9,1.72),(9.2,1.75),(13.1,1.75)]
LFB_POSERR_J2 = [(0,0),(0.3,-0.001),(0.5,-0.006),(1.0,-0.008),(1.3,-0.011),(1.7,-0.007),(2.2,-0.003),(2.7,-0.003),(3.5,-0.004),(4.0,-0.005),(4.4,-0.009),(4.8,-0.011),(5.2,-0.017),(5.5,-0.018),(5.7,-0.005),(6.0,-0.001),(6.3,0.003),(6.6,0.002),(6.9,-0.002),(7.2,0.003),(7.5,-0.007),(8.0,-0.008),(8.3,-0.008),(8.5,0.005),(8.8,0.002),(9.1,0.0),(9.5,0.001),(13.1,0.001)]
LFB_POSERR_J4 = [(0,0),(0.2,0.003),(0.5,0.013),(0.8,0.010),(1.2,0.008),(1.4,0.002),(1.7,0.005),(2.0,0.006),(2.3,0.009),(2.6,0.004),(3.0,0.004),(3.5,0.004),(3.8,0.002),(4.0,0.0),(4.3,-0.032),(4.5,-0.068),(4.8,-0.091),(5.0,-0.102),(5.2,-0.128),(5.4,-0.100),(5.6,-0.038),(5.75,-0.021),(6.0,-0.005),(6.2,0.005),(6.4,0.010),(6.6,0.006),(6.9,0.001),(7.2,0.010),(7.5,0.013),(7.8,0.009),(8.1,0.010),(8.4,0.003),(8.6,-0.008),(8.8,-0.001),(9.0,0.001),(9.5,0.0),(13.1,0.0)]
LFB_J2TQ_F = [(0,-0.3),(0.28,-0.6),(0.5,-2.3),(0.82,-0.6),(1.14,1.7),(1.47,2.3),(1.73,3.8),(2.12,2.6),(2.44,0.6),(2.87,-0.6),(3.41,-0.9),(3.95,-1.2),(4.17,-4.1),(4.49,-8.7),(4.82,-11),(5.14,-15.7),(5.4,-20.6),(5.57,-16.8),(5.79,-9.9),(5.9,-3.5),(6.05,1.7),(6.26,2.3),(6.48,-3.8),(6.7,0),(6.91,2.0),(7.13,-1.2),(7.4,-4.3),(7.73,-4.9),(8.16,-5.2),(8.34,-1.2),(8.49,1.2),(8.7,3.8),(8.92,2.0),(9.24,0.9),(9.68,0.6),(13.02,0.6)]
LFB_J2TQ_L = [(0,-0.3),(0.28,-0.3),(0.5,-2.9),(0.71,-5.8),(1.04,-7.5),(1.3,-9.0),(1.58,-6.7),(1.9,-4.3),(2.22,-2.0),(2.44,-1.4),(2.76,-2.3),(3.2,-2.3),(3.63,-2.6),(3.95,-2.6),(4.28,-6.4),(4.6,-9.6),(4.92,-13.3),(5.18,-17.1),(5.36,-18.6),(5.57,-16.2),(5.68,-7),(5.79,-3.5),(6.0,-1.2),(6.16,4.1),(6.33,1.7),(6.55,-2.9),(6.76,0.6),(7.04,1.4),(7.3,-2.9),(7.62,-6.7),(7.95,-7.5),(8.21,-7),(8.38,-2.3),(8.6,6.7),(8.81,4.1),(9.03,2.3),(9.35,0.9),(9.68,0.6),(13.02,0.6)]
LFB_J4TQ_F = [(0,0.3),(0.28,0.6),(0.56,2.5),(0.82,1.4),(1.14,1.7),(1.36,-0.3),(1.68,1.4),(2.0,0.8),(2.33,1.7),(2.66,0.6),(3.09,1.1),(3.52,0.3),(3.84,0.6),(4.06,-0.6),(4.28,-5.6),(4.49,-13.5),(4.7,-16),(4.9,-18),(5.1,-22),(5.25,-25.3),(5.4,-22),(5.55,-12),(5.68,-4.5),(5.9,-2.2),(6.11,-0.6),(6.33,1.1),(6.59,1.7),(6.76,-0.6),(7.08,1.4),(7.4,2.1),(7.73,1.4),(8.06,0.8),(8.38,0),(8.6,-1.4),(8.81,0),(9.03,-0.8),(9.35,-0.3),(13.02,-0.4)]
LFB_J4TQ_L = [(0,0.5),(0.28,0.9),(0.56,2.7),(0.82,1.6),(1.14,1.9),(1.36,0.0),(1.68,1.5),(2.0,1.0),(2.33,1.8),(2.66,0.8),(3.09,1.2),(3.52,0.5),(3.84,0.7),(4.06,-0.5),(4.28,-5.6),(4.49,-13.5),(4.7,-16),(4.9,-18),(5.1,-22),(5.25,-24.8),(5.4,-22),(5.55,-12),(5.68,-4.5),(5.9,-2.0),(6.11,-0.4),(6.33,1.3),(6.59,1.9),(6.76,-0.4),(7.08,1.6),(7.4,2.3),(7.73,1.5),(8.06,0.9),(8.38,0.1),(8.6,-1.2),(8.81,0.1),(9.03,-0.6),(9.35,-0.2),(13.02,-0.3)]
LFB_TQERR_J2 = [(0,0),(0.4,-1),(0.7,-4),(1.0,-7.5),(1.3,-9.6),(1.6,-9),(1.9,-6),(2.2,-3),(2.6,-1.5),(3.0,-1.2),(3.5,-1.0),(4.0,-1.2),(4.5,-0.5),(5.0,0.5),(5.3,0.5),(5.6,2.8),(5.9,1.0),(6.3,0.5),(6.7,0.5),(7.0,-0.5),(7.5,-1.5),(7.8,-2),(8.2,-2),(8.4,1.5),(8.6,2.2),(8.9,1.5),(9.2,0),(9.5,-0.2),(13.1,-0.2)]
LFB_TQERR_J4 = [(0,0.8),(0.3,0.3),(0.6,1.0),(1.0,0.5),(1.5,0.4),(2.0,0.3),(3.0,0.3),(4.0,0.3),(4.5,-0.3),(5.0,0.3),(5.5,-0.4),(6.0,0.5),(6.5,0.2),(7.0,-0.3),(7.5,0.4),(8.0,0.6),(8.5,-0.6),(9.0,0.3),(9.5,0.3),(13.1,0.3)]

# rows x columns : (red series, blue series)
PANELS = [
    [(GC_J2POS_F, GC_J2POS_L), (DC_J2POS_F, DC_J2POS_L), (GC4_J2POS_F, GC4_J2POS_L), (DC4_J2POS_F, DC4_J2POS_L), (FF_J2POS_F, FF_J2POS_L), (LFB_J2POS_F, LFB_J2POS_L)],
    [(GC_J4POS_F, GC_J4POS_L), (DC_J4POS_F, DC_J4POS_L), (GC4_J4POS_F, GC4_J4POS_L), (DC4_J4POS_F, DC4_J4POS_L), (FF_J4POS_F, FF_J4POS_L), (LFB_J4POS_F, LFB_J4POS_L)],
    [(GC_POSERR_J2, GC_POSERR_J4), (DC_POSERR_J2, DC_POSERR_J4), (GC4_POSERR_J2, GC4_POSERR_J4), (DC4_POSERR_J2, DC4_POSERR_J4), (FF_POSERR_J2, FF_POSERR_J4), (LFB_POSERR_J2, LFB_POSERR_J4)],
    [(GC_J2TQ_F, GC_J2TQ_L), (DC_J2TQ_F, DC_J2TQ_L), (GC4_J2TQ_F, GC4_J2TQ_L), (DC4_J2TQ_F, DC4_J2TQ_L), (FF_J2TQ_F, FF_J2TQ_L), (LFB_J2TQ_F, LFB_J2TQ_L)],
    [(GC_J4TQ_F, GC_J4TQ_L), (DC_J4TQ_F, DC_J4TQ_L), (GC4_J4TQ_F, GC4_J4TQ_L), (DC4_J4TQ_F, DC4_J4TQ_L), (FF_J4TQ_F, FF_J4TQ_L), (LFB_J4TQ_F, LFB_J4TQ_L)],
    [(GC_TQERR_J2, GC_TQERR_J4), (DC_TQERR_J2, DC_TQERR_J4), (GC4_TQERR_J2, GC4_TQERR_J4), (DC4_TQERR_J2, DC4_TQERR_J4), (FF_TQERR_J2, FF_TQERR_J4), (LFB_TQERR_J2, LFB_TQERR_J4)],
]
SERIES_NAMES = [("Follower", "Leader"), ("Follower", "Leader"), ("Joint 2", "Joint 4"),
                ("Follower", "Leader"), ("Follower", "Leader"), ("Joint 2", "Joint 4")]
ROW_LEGEND = {0: "legend", 2: "legend2", 3: "legend3", 5: "legend4"}

Y_RANGES = [[-1.80, 0.43], [1.455, 3.07], [-0.136, 0.025], [-23.8, 8.75], [-27.0, 4.56], [-15.7, 13.2]]
Y_TICKS = [[-1.5, -1.0, -0.5, 0.0], [1.5, 2.0, 2.5, 3.0], [-0.10, -0.05, 0.0], [-20, -10, 0], [-20, -10, 0], [-10, 0, 10]]
Y_TICKTEXT = [["\u22121.5", "\u22121.0", "\u22120.5", "0.0"], ["1.5", "2.0", "2.5", "3.0"],
              ["\u22120.10", "\u22120.05", "0.00"], ["\u221220", "\u221210", "0"],
              ["\u221220", "\u221210", "0"], ["\u221210", "0", "10"]]
X_TICKS_STD = [0, 5, 10]
X_TICKTEXT_STD = ["0", "5", "10"]
X_TICKS_FF = [0, 2.5, 5, 7.5, 10]
X_TICKTEXT_FF = ["0.0", "2.5", "5.0", "7.5", "10.0"]

# ---------------- layout geometry (pixels) ----------------
PANEL_LEFT = [204, 535.5, 867, 1198.5, 1530, 1861]
PANEL_W = 267
PANEL_TOP = [64, 343.5, 623, 902.5, 1182, 1461]
PANEL_H = 187
LINE_W = 3.8
DASH = "14px,6px"

fig = go.Figure()
layout = dict(
    width=W, height=H, margin=dict(l=0, r=0, t=0, b=0),
    paper_bgcolor="white", plot_bgcolor="white",
    font=dict(family=FONT, color="black", size=16.5),
    showlegend=True,
)
shapes = []
annotations = []

for r in range(6):
    for c in range(6):
        idx = r * 6 + c + 1
        xa = "x" if idx == 1 else f"x{idx}"
        ya = "y" if idx == 1 else f"y{idx}"
        xkey = "xaxis" if idx == 1 else f"xaxis{idx}"
        ykey = "yaxis" if idx == 1 else f"yaxis{idx}"
        l = PANEL_LEFT[c]
        t = PANEL_TOP[r]
        xr = [-0.05 * T_END[c], 1.05 * T_END[c]]
        common = dict(showline=True, linewidth=3, linecolor="black", mirror=True,
                      ticks="outside", ticklen=13, tickwidth=3, tickcolor="black",
                      showgrid=False, zeroline=False,
                      tickfont=dict(family=FONT, size=16.5, color="black"))
        layout[xkey] = dict(common, domain=[l / W, (l + PANEL_W) / W], anchor=ya, range=xr,
                            tickmode="array",
                            tickvals=X_TICKS_FF if c == 4 else X_TICKS_STD,
                            ticktext=X_TICKTEXT_FF if c == 4 else X_TICKTEXT_STD,
                            ticklabelstandoff=6)
        layout[ykey] = dict(common, domain=[1 - (t + PANEL_H) / H, 1 - t / H], anchor=xa,
                            range=Y_RANGES[r], tickmode="array",
                            tickvals=Y_TICKS[r], ticktext=Y_TICKTEXT[r],
                            ticklabelstandoff=12)
        shapes.append(dict(type="rect", xref=xa, yref=f"{ya} domain",
                           x0=SHADE_START[c], x1=SHADE_END[c], y0=0, y1=1,
                           fillcolor=SHADE, line=dict(width=0), layer="below"))
        red, blue = PANELS[r][c]
        names = SERIES_NAMES[r]
        show = (c == 0 and r in ROW_LEGEND)
        leg = ROW_LEGEND.get(r, "legend")
        fig.add_trace(go.Scatter(
            x=[p[0] for p in red], y=[p[1] for p in red], xaxis=xa, yaxis=ya,
            mode="lines", name=names[0], line=dict(color=RED, width=LINE_W),
            showlegend=show, legend=leg, hoverinfo="skip"))
        fig.add_trace(go.Scatter(
            x=[p[0] for p in blue], y=[p[1] for p in blue], xaxis=xa, yaxis=ya,
            mode="lines", name=names[1], line=dict(color=BLUE, width=LINE_W, dash=DASH),
            showlegend=show, legend=leg, hoverinfo="skip"))

# legends
LEGEND_Y = {0: 48, 2: 607, 3: 887, 5: 1445}
for r, key in ROW_LEGEND.items():
    layout[key] = dict(orientation="h", x=(PANEL_LEFT[0] + PANEL_W / 2 + 18) / W, xanchor="center",
                       y=1 - LEGEND_Y[r] / H, yanchor="middle", entrywidth=98,
                       bgcolor="rgba(0,0,0,0)", borderwidth=0,
                       font=dict(family=FONT, size=16.5, color="black"))

# column titles and time labels
for c, name in enumerate(COLUMNS):
    annotations.append(dict(text=name, x=(PANEL_LEFT[c] + PANEL_W / 2) / W, y=1 - 16 / H,
                            xref="paper", yref="paper", xanchor="center", yanchor="middle",
                            showarrow=False, font=dict(family=FONT, size=33, color="black")))
    annotations.append(dict(text="Time (s)", x=(PANEL_LEFT[c] + PANEL_W / 2) / W, y=1 - 1721 / H,
                            xref="paper", yref="paper", xanchor="center", yanchor="middle",
                            showarrow=False, font=dict(family=FONT, size=20.5, color="black")))
# y labels
for r, lab in enumerate(ROW_LABELS):
    annotations.append(dict(text=lab, x=108 / W, y=1 - (PANEL_TOP[r] + PANEL_H / 2) / H,
                            xref="paper", yref="paper", xanchor="center", yanchor="middle",
                            textangle=-90, showarrow=False,
                            font=dict(family=FONT, size=20.5, color="black")))
# group labels
for lab, yc in [("Position Tracking", 442), ("Force Tracking", 1325)]:
    annotations.append(dict(text=lab, x=19 / W, y=1 - yc / H, xref="paper", yref="paper",
                            xanchor="center", yanchor="middle", textangle=-90, showarrow=False,
                            font=dict(family=FONT, size=34, color="black")))
# group bracket lines
for y0, y1 in [(9, 876), (909, 1741)]:
    shapes.append(dict(type="line", xref="paper", yref="paper", x0=53 / W, x1=53 / W,
                       y0=1 - y0 / H, y1=1 - y1 / H, line=dict(color="black", width=3)))

layout["shapes"] = shapes
layout["annotations"] = annotations
fig.update_layout(**layout)
fig.write_html("out.html")
